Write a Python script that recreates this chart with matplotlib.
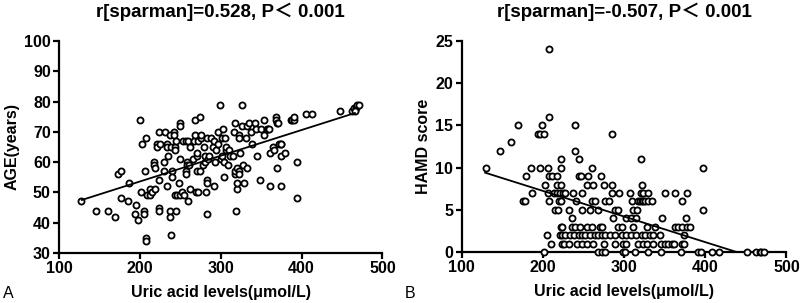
import numpy as np
import matplotlib
matplotlib.use("Agg")
import matplotlib.pyplot as plt

# panel A: uric acid vs age
uric_a = [127, 146, 160, 169, 173, 176, 177, 186, 185, 195, 194, 197, 200, 201, 203, 206, 205, 205,
          208, 207, 207, 209, 212, 212, 215, 217, 217, 218, 219, 221, 221, 223, 223, 224, 224, 225,
          231, 230, 230, 233, 234, 235, 234, 237, 237, 237, 238, 238, 239, 240, 242, 242, 243, 243,
          243, 245, 245, 248, 246, 249, 250, 250, 250, 252, 253, 257, 254, 257, 257, 258, 258, 260,
          260, 261, 262, 262, 265, 268, 274, 267, 268, 269, 272, 270, 270, 271, 272, 274, 276, 276,
          278, 279, 280, 281, 282, 283, 283, 283, 283, 284, 286, 288, 290, 291, 292, 293, 294, 296,
          297, 299, 300, 301, 303, 302, 304, 304, 305, 307, 307, 309, 310, 311, 315, 316, 317, 317,
          317, 319, 320, 320, 320, 322, 322, 323, 323, 324, 326, 326, 327, 329, 331, 332, 333, 335,
          337, 339, 342, 343, 345, 349, 350, 353, 354, 357, 359, 360, 361, 361, 364, 366, 368, 368,
          369, 371, 370, 372, 374, 375, 374, 375, 379, 387, 388, 390, 391, 394, 394, 405, 413, 448,
          462, 465, 467, 469, 471, 466]
age_a = [47, 44, 44, 42, 56, 57, 48, 53, 47, 46, 43, 41, 74, 50, 66, 57, 44, 43,
         68, 35, 34, 49, 51, 49, 50, 60, 59, 58, 51, 66, 65, 45, 44, 54, 70, 66,
         70, 60, 57, 66, 65, 62, 52, 69, 44, 42, 65, 36, 57, 55, 70, 69, 49, 65,
         64, 44, 67, 53, 49, 61, 73, 72, 49, 50, 67, 67, 49, 57, 56, 60, 59, 67,
         47, 59, 65, 51, 61, 74, 75, 67, 69, 50, 50, 62, 63, 57, 67, 57, 68, 69,
         59, 65, 60, 62, 50, 68, 54, 53, 43, 61, 62, 68, 65, 52, 67, 60, 64, 66,
         70, 79, 61, 68, 71, 62, 60, 55, 68, 64, 65, 59, 64, 62, 62, 70, 73, 56,
         57, 44, 51, 53, 58, 69, 68, 57, 56, 63, 79, 72, 59, 53, 68, 58, 72, 73,
         70, 66, 73, 71, 62, 54, 71, 69, 74, 71, 71, 71, 63, 52, 65, 64, 75, 74,
         73, 73, 58, 66, 66, 66, 62, 52, 63, 74, 74, 74, 75, 60, 48, 76, 76, 77,
         77, 78, 78, 79, 79, 77]

# panel B: uric acid vs HAMD score (one row per score)
uric_b = [208,
          208,
          170, 199, 240,
          194, 197, 201, 285,
          161,
          147, 240,
          223, 245, 321,
          130, 186, 196, 207, 223, 261, 397,
          179, 208, 211, 217, 244, 247, 256, 272,
          203, 218, 223, 254, 262, 275, 285, 322,
          187, 207, 214, 217, 221, 225, 227, 237, 248, 285, 294, 307, 321, 324, 330, 350, 363, 377,
          176, 178, 208, 220, 222, 241, 260, 264, 277, 281, 310, 317, 320, 322, 324, 326, 330, 335, 372,
          215, 219, 232, 248, 258, 268, 289, 293, 311, 316, 397,
          236, 287, 303, 309, 315, 347, 376,
          222, 224, 236, 240, 246, 254, 260, 271, 273, 293, 297, 311, 328, 338, 363, 367, 371, 377, 381,
          205, 221, 224, 227, 234, 238, 244, 248, 252, 258, 264, 268, 273, 277, 283, 289, 297, 303,
          309, 315, 322, 326, 332, 336, 344, 374,
          210, 224, 226, 232, 242, 248, 254, 262, 275, 289, 299, 303, 317, 324, 328, 336, 346, 350,
          354, 359, 362, 371, 374,
          201, 268, 273, 276, 299, 301, 313, 329, 345, 370, 391, 395, 408, 417, 451, 463, 467, 469, 472]
hamd_b = [24,
          16,
          15, 15, 15,
          14, 14, 14, 14,
          13,
          12, 12,
          11, 11, 11,
          10, 10, 10, 10, 10, 10, 10,
          9, 9, 9, 9, 9, 9, 9, 9,
          8, 8, 8, 8, 8, 8, 8, 8,
          7, 7, 7, 7, 7, 7, 7, 7, 7, 7, 7, 7, 7, 7, 7, 7, 7, 7,
          6, 6, 6, 6, 6, 6, 6, 6, 6, 6, 6, 6, 6, 6, 6, 6, 6, 6, 6,
          5, 5, 5, 5, 5, 5, 5, 5, 5, 5, 5,
          4, 4, 4, 4, 4, 4, 4,
          3, 3, 3, 3, 3, 3, 3, 3, 3, 3, 3, 3, 3, 3, 3, 3, 3, 3, 3,
          2, 2, 2, 2, 2, 2, 2, 2, 2, 2, 2, 2, 2, 2, 2, 2, 2, 2,
          2, 2, 2, 2, 2, 2, 2, 2,
          1, 1, 1, 1, 1, 1, 1, 1, 1, 1, 1, 1, 1, 1, 1, 1, 1, 1,
          1, 1, 1, 1, 1,
          0, 0, 0, 0, 0, 0, 0, 0, 0, 0, 0, 0, 0, 0, 0, 0, 0, 0, 0]

# fitted lines as drawn in the figure
fit_a_x = [128, 466]
fit_a_y = [47.5, 76.2]
fit_b_x = [129, 439]
fit_b_y = [9.4, 0.0]

titles = ["r[sparman]=0.528, P\uff1c 0.001", "r[sparman]=-0.507, P\uff1c 0.001"]
ylabels = ["AGE(years)", "HAMD score"]
xlabel = "Uric acid levels(\u03bcmol/L)"
panel_tags = ["A", "B"]

plt.rcParams["font.family"] = ["Liberation Sans", "Noto Sans CJK SC", "DejaVu Sans"]

fig = plt.figure(figsize=(8, 3.03), dpi=100)
ax1 = fig.add_axes([0.074, 0.165, 0.404, 0.700])
ax2 = fig.add_axes([0.577, 0.168, 0.406, 0.697])


def style_axes(ax):
    for s in ["top", "right"]:
        ax.spines[s].set_visible(False)
    for s in ["left", "bottom"]:
        ax.spines[s].set_linewidth(1.6)
    ax.tick_params(direction="out", length=4, width=1.6, labelsize=11.5, pad=2)
    for lab in ax.get_xticklabels() + ax.get_yticklabels():
        lab.set_fontweight("bold")


mk = dict(marker="o", ms=4.4, mfc="white", mec="black", mew=1.3, ls="none")

ax1.plot(uric_a, age_a, **mk)
ax1.plot(fit_a_x, fit_a_y, color="black", lw=1.3)
ax1.set_xlim(100, 500)
ax1.set_ylim(30, 100)
ax1.set_xticks(np.arange(100, 501, 100))
ax1.set_yticks(np.arange(30, 101, 10))

ax2.plot(uric_b, hamd_b, clip_on=False, zorder=3, **mk)
ax2.plot(fit_b_x, fit_b_y, color="black", lw=1.3, zorder=4)
ax2.set_xlim(100, 500)
ax2.set_ylim(0, 25)
ax2.set_xticks(np.arange(100, 501, 100))
ax2.set_yticks(np.arange(0, 26, 5))

for ax, t, yl in zip([ax1, ax2], titles, ylabels):
    style_axes(ax)
    ax.set_title(t, fontsize=13.5, fontweight="bold", pad=17)
    ax.set_ylabel(yl, fontsize=11.5, fontweight="bold", labelpad=3)
    ax.set_xlabel(xlabel, fontsize=11.5, fontweight="bold", labelpad=6)

fig.text(0.004, 0.018, panel_tags[0], fontsize=11.5)
fig.text(0.506, 0.018, panel_tags[1], fontsize=11.5)

fig.savefig("out.png", dpi=100)
